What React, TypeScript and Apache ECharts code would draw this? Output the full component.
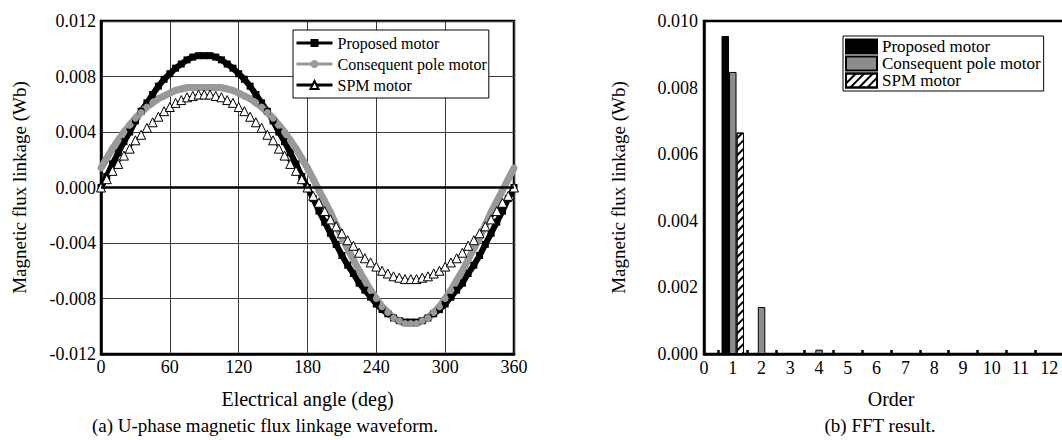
import React, { useEffect, useRef } from "react";
import * as echarts from "echarts";

const FONT = "'Liberation Serif', 'Times New Roman', serif";

// Left chart: U-phase flux linkage waveform, sampled every 5 degrees
const ANGLES = Array.from({ length: 73 }, (_, i) => i * 5);
const PROPOSED_WAVE = [
  0.0, 0.0008, 0.0017, 0.0025, 0.0033, 0.004, 0.0048, 0.0055, 0.0061, 0.0067, 0.0073, 0.0078, 0.0082,
  0.0086, 0.0089, 0.0092, 0.0094, 0.0095, 0.0095, 0.0095, 0.0094, 0.0092, 0.0089, 0.0086, 0.0082,
  0.0078, 0.0073, 0.0067, 0.0061, 0.0055, 0.0048, 0.004, 0.0033, 0.0025, 0.0017, 0.0008, 0.0,
  -0.0008, -0.0017, -0.0025, -0.0033, -0.0041, -0.0049, -0.0056, -0.0062, -0.0069, -0.0074, -0.0079,
  -0.0084, -0.0088, -0.0091, -0.0094, -0.0096, -0.0097, -0.0097, -0.0097, -0.0096, -0.0094, -0.0091,
  -0.0088, -0.0084, -0.0079, -0.0074, -0.0069, -0.0062, -0.0056, -0.0049, -0.0041, -0.0033, -0.0025,
  -0.0017, -0.0008, 0.0,
];
const CONSEQUENT_WAVE = [
  0.0014, 0.0021, 0.0028, 0.0034, 0.004, 0.0045, 0.005, 0.0054, 0.0058, 0.0061, 0.0064, 0.0066, 0.0068,
  0.007, 0.0071, 0.0072, 0.0072, 0.0072, 0.0072, 0.0072, 0.0072, 0.0072, 0.0071, 0.007, 0.0068, 0.0066,
  0.0064, 0.0061, 0.0058, 0.0054, 0.005, 0.0045, 0.004, 0.0034, 0.0028, 0.0021, 0.0014, 0.0006, -0.0002,
  -0.001, -0.0018, -0.0027, -0.0036, -0.0044, -0.0052, -0.006, -0.0067, -0.0074, -0.008, -0.0086,
  -0.009, -0.0094, -0.0096, -0.0098, -0.0098, -0.0098, -0.0096, -0.0094, -0.009, -0.0086, -0.008,
  -0.0074, -0.0067, -0.006, -0.0052, -0.0044, -0.0036, -0.0027, -0.0018, -0.001, -0.0002, 0.0006, 0.0014,
];
const SPM_WAVE = [
  0.0, 0.0006, 0.0012, 0.0017, 0.0023, 0.0028, 0.0034, 0.0038, 0.0043, 0.0047, 0.0051, 0.0055, 0.0058,
  0.0061, 0.0063, 0.0065, 0.0066, 0.0067, 0.0067, 0.0067, 0.0066, 0.0065, 0.0063, 0.0061, 0.0058,
  0.0055, 0.0051, 0.0047, 0.0043, 0.0038, 0.0034, 0.0028, 0.0023, 0.0017, 0.0012, 0.0006, 0.0,
  -0.0006, -0.0011, -0.0017, -0.0023, -0.0028, -0.0033, -0.0038, -0.0042, -0.0047, -0.0051, -0.0054,
  -0.0057, -0.006, -0.0062, -0.0064, -0.0065, -0.0066, -0.0066, -0.0066, -0.0065, -0.0064, -0.0062,
  -0.006, -0.0057, -0.0054, -0.0051, -0.0047, -0.0042, -0.0038, -0.0033, -0.0028, -0.0023, -0.0017,
  -0.0011, -0.0006, 0.0,
];

// Right chart: FFT result by harmonic order
const ORDERS = [0, 1, 2, 3, 4, 5, 6, 7, 8, 9, 10, 11, 12];
const PROPOSED_FFT = [0, 0.00955, 0, 0, 0, 0, 0, 0, 0, 0, 0, 0, 0];
const CONSEQUENT_FFT = [0, 0.00847, 0.00141, 0, 0.00013, 0.00003, 0, 0, 0, 0, 0, 0, 0];
const SPM_FFT = [0, 0.00665, 0, 0, 0, 0, 0, 0, 0, 0, 0, 0, 0];

const SERIES_NAMES = ["Proposed motor", "Consequent pole motor", "SPM motor"];
const CAPTION_A = "(a) U-phase magnetic flux linkage waveform.";
const CAPTION_B = "(b) FFT result.";
const Y_TITLE = "Magnetic flux linkage (Wb)";

const fmt3 = (v: number) => (Math.abs(v) < 1e-9 ? "0.000" : v.toFixed(3));

export default function App() {
  const leftRef = useRef<HTMLDivElement>(null);
  const rightRef = useRef<HTMLDivElement>(null);

  useEffect(() => {
    const left = echarts.init(leftRef.current!, null, { renderer: "svg" });
    const right = echarts.init(rightRef.current!, null, { renderer: "svg" });

    const axisText = { color: "#000", fontSize: 18, fontFamily: FONT };
    const nameText = { color: "#000", fontSize: 20, fontFamily: FONT };

    left.setOption({
      animation: false,
      textStyle: { fontFamily: FONT },
      grid: {
        left: 101, top: 21, width: 413, height: 333,
        show: true, borderColor: "#000", borderWidth: 2.5, backgroundColor: "transparent",
      },
      legend: {
        left: 293, top: 30, orient: "vertical",
        backgroundColor: "#fff", borderColor: "#000", borderWidth: 1,
        padding: [5, 2, 5, 2], itemGap: 5, itemWidth: 36, itemHeight: 10,
        lineStyle: { width: 3 },
        textStyle: { fontFamily: FONT, fontSize: 16, color: "#000" },
        data: SERIES_NAMES,
      },
      xAxis: {
        type: "value", min: 0, max: 360, interval: 60,
        name: "Electrical angle (deg)", nameLocation: "middle", nameGap: 35, nameTextStyle: nameText,
        axisLine: { show: true, onZero: false, lineStyle: { color: "#000", width: 2.5 } },
        axisTick: { show: false },
        axisLabel: { ...axisText, margin: 4 },
        splitLine: { show: true, lineStyle: { color: "#3a3a3a", width: 1 } },
      },
      yAxis: {
        type: "value", min: -0.012, max: 0.012, interval: 0.004,
        name: Y_TITLE, nameLocation: "middle", nameGap: 72, nameTextStyle: { ...nameText, fontSize: 19 },
        axisLine: { show: true, onZero: false, lineStyle: { color: "#000", width: 2.5 } },
        axisTick: { show: false },
        axisLabel: { ...axisText, margin: 5, formatter: fmt3 },
        splitLine: { show: true, lineStyle: { color: "#3a3a3a", width: 1 } },
      },
      series: [
        {
          name: SERIES_NAMES[0], type: "line",
          data: ANGLES.map((a, i) => [a, PROPOSED_WAVE[i]]),
          symbol: "rect", symbolSize: 7, showAllSymbol: true,
          itemStyle: { color: "#000" }, lineStyle: { color: "#000", width: 6 },
          emphasis: { disabled: true },
          markLine: {
            silent: true, symbol: "none", label: { show: false },
            lineStyle: { color: "#000", width: 2.5, type: "solid" },
            data: [{ yAxis: 0 }],
          },
        },
        {
          name: SERIES_NAMES[1], type: "line",
          data: ANGLES.map((a, i) => [a, CONSEQUENT_WAVE[i]]),
          symbol: "circle", symbolSize: 7, showAllSymbol: true,
          itemStyle: { color: "#999" }, lineStyle: { color: "#999", width: 7 },
          emphasis: { disabled: true },
        },
        {
          name: SERIES_NAMES[2], type: "line",
          data: ANGLES.map((a, i) => [a, SPM_WAVE[i]]),
          symbol: "triangle", symbolSize: 9, showAllSymbol: true,
          itemStyle: { color: "#fff", borderColor: "#000", borderWidth: 1 },
          lineStyle: { color: "#000", width: 1.2 },
          emphasis: { disabled: true },
        },
      ],
      graphic: [
        {
          type: "text", x: 265, y: 425,
          style: { text: CAPTION_A, fontSize: 19, fontFamily: FONT, fill: "#000", align: "center", verticalAlign: "middle" },
        },
      ],
    });

    const toPairs = (vals: number[]) =>
      ORDERS.map((o, i) => [o, vals[i]]).filter((p) => p[1] > 0);

    right.setOption({
      animation: false,
      textStyle: { fontFamily: FONT },
      grid: {
        left: 144, top: 21, width: 374, height: 333,
        show: true, borderColor: "#000", borderWidth: 2.5, backgroundColor: "transparent",
      },
      legend: {
        left: 283, top: 36, orient: "vertical",
        backgroundColor: "#fff", borderColor: "#000", borderWidth: 1,
        padding: [2, 3, 2, 2], itemGap: 0, itemWidth: 31, itemHeight: 14,
        icon: "rect",
        textStyle: { fontFamily: FONT, fontSize: 17, color: "#000", lineHeight: 17 },
        data: SERIES_NAMES,
      },
      xAxis: {
        type: "value", min: 0, max: 13, interval: 1,
        name: "Order", nameLocation: "middle", nameGap: 35, nameTextStyle: nameText,
        axisLine: { show: true, onZero: false, lineStyle: { color: "#000", width: 2.5 } },
        axisTick: { show: false, inside: true },
        minorTick: { show: true, splitNumber: 2, length: 4, lineStyle: { color: "#000", width: 2.5 } },
        axisLabel: {
          ...axisText, margin: 5,
          formatter: (v: number) => (Number.isInteger(v) && v <= 12 ? String(v) : ""),
        },
        splitLine: { show: false },
      },
      yAxis: {
        type: "value", min: 0, max: 0.01, interval: 0.002,
        name: Y_TITLE, nameLocation: "middle", nameGap: 76, nameTextStyle: { ...nameText, fontSize: 19 },
        axisLine: { show: true, lineStyle: { color: "#000", width: 2.5 } },
        axisTick: { show: false },
        axisLabel: { ...axisText, margin: 6, formatter: fmt3 },
        splitLine: { show: false },
      },
      series: [
        {
          name: SERIES_NAMES[0], type: "bar", data: toPairs(PROPOSED_FFT),
          barWidth: 7.5, barGap: "0%",
          itemStyle: { color: "#000", borderColor: "#000", borderWidth: 1 },
          emphasis: { disabled: true },
        },
        {
          name: SERIES_NAMES[1], type: "bar", data: toPairs(CONSEQUENT_FFT),
          barWidth: 7.5, barGap: "0%",
          itemStyle: { color: "#8c8c8c", borderColor: "#000", borderWidth: 1 },
          emphasis: { disabled: true },
        },
        {
          name: SERIES_NAMES[2], type: "bar", data: toPairs(SPM_FFT),
          barWidth: 7.5, barGap: "0%",
          itemStyle: {
            color: "#fff", borderColor: "#000", borderWidth: 1,
            decal: {
              symbol: "rect", symbolSize: 1, color: "#000", backgroundColor: "#fff",
              dashArrayX: [1, 0], dashArrayY: [1.2, 3.5], rotation: -Math.PI / 4,
            },
          },
          emphasis: { disabled: true },
        },
      ],
      graphic: [
        {
          type: "text", x: 320, y: 425,
          style: { text: CAPTION_B, fontSize: 19, fontFamily: FONT, fill: "#000", align: "center", verticalAlign: "middle" },
        },
      ],
    });

    return () => {
      left.dispose();
      right.dispose();
    };
  }, []);

  return (
    <div style={{ position: "fixed", left: 0, top: 0, width: 1062, height: 440, overflow: "hidden", background: "#fff" }}>
      <div ref={leftRef} style={{ position: "absolute", left: 0, top: 0, width: 560, height: 440 }} />
      <div ref={rightRef} style={{ position: "absolute", left: 560, top: 0, width: 525, height: 440 }} />
    </div>
  );
}
